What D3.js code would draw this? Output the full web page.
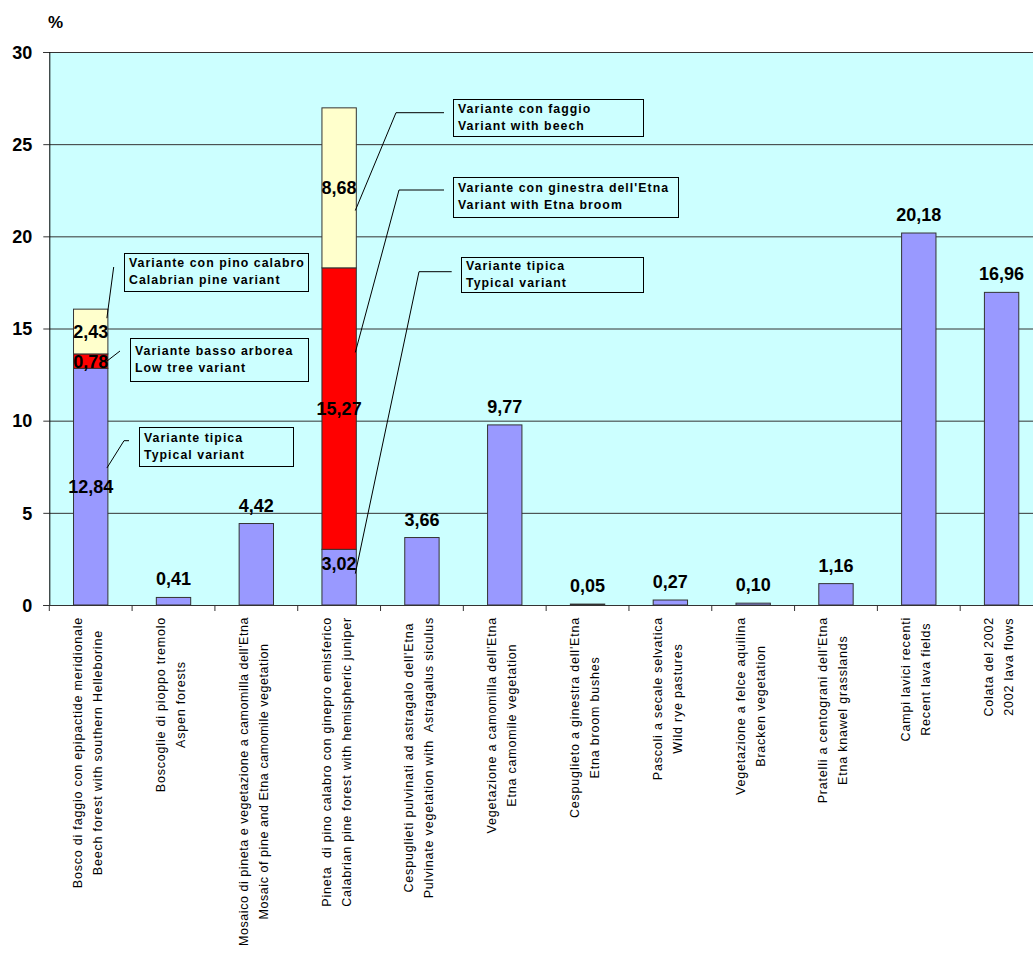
<!DOCTYPE html>
<html>
<head>
<meta charset="utf-8">
<script src="https://cdn.jsdelivr.net/npm/d3@7"></script>
<style>
  body { margin: 0; background: #ffffff; }
  svg { display: block; }
  text { font-family: Arial, "Liberation Sans", sans-serif; }
</style>
</head>
<body>
<svg id="chart" width="1033" height="957"></svg>
<script>
// Vegetation types (Italian / English names)
const categoriesIt = [
  "Bosco di faggio con epipactide meridionale",
  "Boscoglie di pioppo tremolo",
  "Mosaico di pineta e vegetazione a camomilla dell'Etna",
  "Pineta  di pino calabro con ginepro emisferico",
  "Cespuglieti pulvinati ad astragalo dell'Etna",
  "Vegetazione a camomilla dell'Etna",
  "Cespuglieto a ginestra dell'Etna",
  "Pascoli a secale selvatica",
  "Vegetazione a felce aquilina",
  "Pratelli a centograni dell'Etna",
  "Campi lavici recenti",
  "Colata del 2002"
];
const categoriesEn = [
  "Beech forest with southern Helleborine",
  "Aspen forests",
  "Mosaic of pine and Etna camomile vegetation",
  "Calabrian pine forest with hemispheric juniper",
  "Pulvinate vegetation with  Astragalus siculus",
  "Etna camomile vegetation",
  "Etna broom bushes",
  "Wild rye pastures",
  "Bracken vegetation",
  "Etna knawel grasslands",
  "Recent lava fields",
  "2002 lava flows"
];

// Percent cover per variant (stacked)
const typicalVariant = [12.84, 0.41, 4.42, 3.02, 3.66, 9.77, 0.05, 0.27, 0.10, 1.16, 20.18, 16.96];
const secondVariant  = [0.78, 0, 0, 15.27, 0, 0, 0, 0, 0, 0, 0, 0];
const thirdVariant   = [2.43, 0, 0, 8.68, 0, 0, 0, 0, 0, 0, 0, 0];

const yTicks = [0, 5, 10, 15, 20, 25, 30];

// Callout texts: which bar segment they describe
const callouts = [
  { cat: 0, key: "third",   lines: ["Variante con pino calabro", "Calabrian pine variant"] },
  { cat: 0, key: "second",  lines: ["Variante basso arborea", "Low tree variant"] },
  { cat: 0, key: "typical", lines: ["Variante tipica", "Typical variant"] },
  { cat: 3, key: "third",   lines: ["Variante con faggio", "Variant with beech"] },
  { cat: 3, key: "second",  lines: ["Variante con ginestra dell'Etna", "Variant with Etna broom"] },
  { cat: 3, key: "typical", lines: ["Variante tipica", "Typical variant"] }
];

const segColors = { typical: "#9999FF", second: "#FF0000", third: "#FFFFCC" };

const fmt = v => d3.format(".2f")(v).replace(".", ",");

const svg = d3.select("#chart");
const W = 1033, H = 957;
svg.append("rect").attr("width", W).attr("height", H).attr("fill", "#ffffff");

const plot = { left: 49.3, right: 1043, top: 52, bottom: 605 };

const idx = d3.range(categoriesIt.length);
const x = d3.scaleBand().domain(idx).range([plot.left, plot.right]).paddingInner(0.585).paddingOuter(0.2925);
const xb = d3.scaleBand().domain(idx).range([plot.left, plot.right]);
const y = d3.scaleLinear().domain([0, 30]).range([plot.bottom, plot.top]);

// plot background
svg.append("rect")
  .attr("x", plot.left).attr("y", plot.top)
  .attr("width", plot.right - plot.left).attr("height", plot.bottom - plot.top)
  .attr("fill", "#CCFFFF");

// gridlines
svg.append("g").selectAll("line").data(yTicks.filter(t => t > 0)).join("line")
  .attr("x1", plot.left).attr("x2", plot.right)
  .attr("y1", d => y(d) + 0.5).attr("y2", d => y(d) + 0.5)
  .attr("stroke", "#333333").attr("stroke-width", 1);

// stacked bars
const rows = idx.map(i => ({ i, typical: typicalVariant[i], second: secondVariant[i], third: thirdVariant[i] }));
const keys = ["typical", "second", "third"];
const series = d3.stack().keys(keys)(rows);

svg.append("g").selectAll("g").data(series).join("g")
  .attr("fill", s => segColors[s.key])
  .selectAll("rect").data(s => s.filter(d => d[1] - d[0] > 0)).join("rect")
  .attr("x", d => x(d.data.i))
  .attr("width", x.bandwidth())
  .attr("y", d => y(d[1]))
  .attr("height", d => y(d[0]) - y(d[1]))
  .attr("stroke", "#333333").attr("stroke-width", 1);

// value labels
const labels = [];
series.forEach(s => {
  s.forEach(d => {
    const v = d[1] - d[0];
    if (v <= 0) return;
    const i = d.data.i;
    const stacked = secondVariant[i] > 0 || thirdVariant[i] > 0;
    let yy;
    if (!stacked) yy = y(d[1]) - 12;                       // above the bar
    else if (i === 3 && s.key === "typical") yy = y(d[1]) + 21; // inside end
    else yy = (y(d[0]) + y(d[1])) / 2 + 6.5;               // centred in segment
    labels.push({ x: x(i) + x.bandwidth() / 2, y: yy, text: fmt(v) });
  });
});
svg.append("g").selectAll("text").data(labels).join("text")
  .attr("x", d => d.x).attr("y", d => d.y)
  .attr("text-anchor", "middle")
  .attr("font-size", 18).attr("font-weight", "bold").attr("fill", "#000")
  .text(d => d.text);

// callout boxes and leader lines
const calloutLayout = [
  { box: [124, 253, 184, 38], path: [[113.7, 267]], end: 15.56 },
  { box: [130, 338, 178, 43], path: [[120, 351]], end: 13.23 },
  { box: [139, 427, 154, 39], path: [[129, 440.7], [124, 440.7]], end: 7.43 },
  { box: [453, 99, 190, 37],  path: [[444, 112.7], [396, 112.7]], end: 21.4 },
  { box: [453, 177, 225, 40], path: [[444, 190], [399, 190]], end: 13.7 },
  { box: [461, 257, 182, 35], path: [[451.7, 271.7], [419, 271.7]], end: 1.7 }
];
const cg = svg.append("g");
callouts.forEach((c, k) => {
  const L = calloutLayout[k];
  const pts = L.path.concat([[x(c.cat) + x.bandwidth() - 1, y(L.end)]]);
  cg.append("path")
    .attr("d", d3.line()(pts))
    .attr("fill", "none").attr("stroke", "#000").attr("stroke-width", 1);
  const [bx, by, bw, bh] = L.box;
  cg.append("rect")
    .attr("x", bx + 0.5).attr("y", by + 0.5).attr("width", bw).attr("height", bh)
    .attr("fill", "#CCFFFF").attr("stroke", "#000").attr("stroke-width", 1);
  const t = cg.append("text")
    .attr("font-size", 12.3).attr("font-weight", "bold").attr("letter-spacing", 1.05).attr("fill", "#000");
  c.lines.forEach((ln, j) => {
    t.append("tspan").attr("x", bx + 5).attr("y", by + bh / 2 - 3 + j * 17 - 2).text(ln);
  });
});

// y axis
const yAxis = svg.append("g").attr("transform", `translate(${plot.left},0)`)
  .call(d3.axisLeft(y).tickValues(yTicks).tickSize(6).tickPadding(11).tickFormat(d3.format("d")));
yAxis.select(".domain").attr("stroke", "#000");
yAxis.selectAll(".tick line").attr("stroke", "#333");
yAxis.selectAll("text").attr("font-size", 18).attr("font-weight", "bold").attr("fill", "#000")
  .attr("font-family", "Arial, 'Liberation Sans', sans-serif").attr("dy", "0.35em");

svg.append("text").attr("x", 48).attr("y", 28)
  .attr("font-size", 17).attr("font-weight", "bold").text("%");

// x axis line and ticks at category boundaries
svg.append("line").attr("x1", plot.left).attr("x2", plot.right)
  .attr("y1", plot.bottom + 0.5).attr("y2", plot.bottom + 0.5).attr("stroke", "#333");
svg.append("g").selectAll("line").data(d3.range(categoriesIt.length + 1)).join("line")
  .attr("x1", i => plot.left + i * xb.step()).attr("x2", i => plot.left + i * xb.step())
  .attr("y1", plot.bottom).attr("y2", plot.bottom + 6).attr("stroke", "#333");

// rotated two-line category labels, centred on the longest line
const labelTop = 617;
const labelRoom = H - labelTop - 2;
const xl = svg.append("g");
idx.forEach(i => {
  const cx = xb(i) + xb.bandwidth() / 2;
  const g = xl.append("g");
  const lines = [categoriesIt[i], categoriesEn[i]];
  const texts = lines.map((ln, j) => g.append("text")
    .attr("font-size", 12.5).attr("letter-spacing", 0.8).attr("fill", "#000")
    .attr("text-anchor", "middle")
    .attr("xml:space", "preserve")
    .text(ln));
  let maxLen = d3.max(texts, t => t.node().getComputedTextLength());
  if (maxLen > labelRoom) {
    // tighten spacing so the longest label stays inside the page
    texts.forEach(t => t.attr("letter-spacing", 0.55));
    maxLen = d3.max(texts, t => t.node().getComputedTextLength());
  }
  const cy = labelTop + maxLen / 2;
  texts.forEach((t, j) => {
    const bx = cx - 8.5 + j * 20;
    t.attr("transform", `translate(${bx},${cy}) rotate(-90)`);
  });
});
</script>
</body>
</html>
